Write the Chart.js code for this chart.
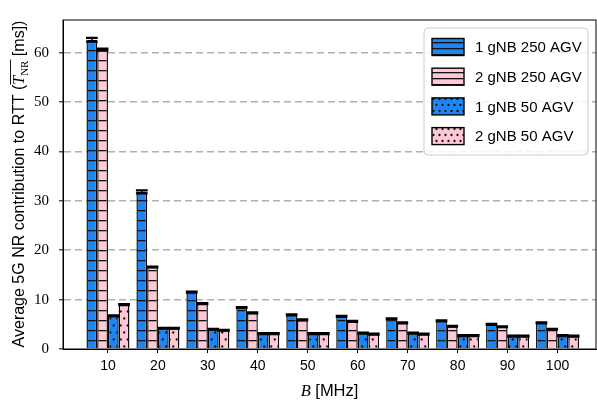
<!DOCTYPE html>
<html>
<head>
<meta charset="utf-8">
<script src="https://cdn.jsdelivr.net/npm/chart.js@4"></script>
<style>
  body { margin: 0; background: #fff; }
</style>
</head>
<body>
<canvas id="rttChart" width="597" height="403"></canvas>
<script>
const bandwidth = [10, 20, 30, 40, 50, 60, 70, 80, 90, 100];

const gnb1_250 = [62.6, 31.8, 11.5, 8.4, 6.9, 6.6, 6.1, 5.7, 5.0, 5.3];
const gnb2_250 = [60.6, 16.6, 9.2, 7.3, 5.9, 5.6, 5.3, 4.6, 4.5, 4.0];
const gnb1_50 = [6.7, 4.2, 4.0, 3.1, 3.1, 3.2, 3.2, 2.7, 2.6, 2.7];
const gnb2_50 = [9.0, 4.2, 3.8, 3.1, 3.1, 3.0, 3.0, 2.7, 2.6, 2.6];

const err1_250 = [0.4, 0.3, 0.1, 0.1, 0.1, 0.1, 0.1, 0.1, 0.1, 0.1];
const err2_250 = [0.2, 0.1, 0.1, 0.1, 0.1, 0.1, 0.1, 0.1, 0.1, 0.1];
const err1_50 = [0.1, 0.1, 0.1, 0.1, 0.1, 0.1, 0.1, 0.1, 0.1, 0.1];
const err2_50 = [0.1, 0.1, 0.1, 0.1, 0.1, 0.1, 0.1, 0.1, 0.1, 0.1];

const yTicks = [0, 10, 20, 30, 40, 50, 60];

const BLUE = '#1e86f2';
const PINK = '#ffc8d4';

// hatch patterns (bars and legend use a denser one)
function linePattern(color, step) {
    const c = document.createElement('canvas');
    c.width = 8; c.height = step;
    const g = c.getContext('2d');
    g.fillStyle = color;
    g.fillRect(0, 0, c.width, c.height);
    g.fillStyle = '#111';
    g.fillRect(0, 0, c.width, 1.3);
    return g.createPattern(c, 'repeat');
}

function dotPattern(color, step) {
    const c = document.createElement('canvas');
    c.width = step; c.height = step * 2;
    const g = c.getContext('2d');
    g.fillStyle = color;
    g.fillRect(0, 0, c.width, c.height);
    g.fillStyle = '#111';
    g.beginPath();
    g.arc(step * 0.25, step * 0.5, 1.15, 0, Math.PI * 2);
    g.arc(step * 0.75, step * 1.5, 1.15, 0, Math.PI * 2);
    g.fill();
    return g.createPattern(c, 'repeat');
}

function toPoints(values) {
    return bandwidth.map((b, i) => ({ x: b, y: values[i] }));
}

const series = [
    { label: '1 gNB 250 AGV', values: gnb1_250, err: err1_250, fill: linePattern(BLUE, 10), legendFill: linePattern(BLUE, 6) },
    { label: '2 gNB 250 AGV', values: gnb2_250, err: err2_250, fill: linePattern(PINK, 10), legendFill: linePattern(PINK, 6) },
    { label: '1 gNB 50 AGV', values: gnb1_50, err: err1_50, fill: dotPattern(BLUE, 7), legendFill: dotPattern(BLUE, 6) },
    { label: '2 gNB 50 AGV', values: gnb2_50, err: err2_50, fill: dotPattern(PINK, 7), legendFill: dotPattern(PINK, 6) }
];

const datasets = series.map(s => ({
    label: s.label,
    data: toPoints(s.values),
    errors: s.err,
    legendFill: s.legendFill,
    backgroundColor: s.fill,
    borderColor: '#000',
    borderWidth: 1.4,
    borderSkipped: 'bottom',
    categoryPercentage: 0.86,
    barPercentage: 1.0
}));

const errorBars = {
    id: 'errorBars',
    afterDatasetsDraw(chart) {
        const ctx = chart.ctx;
        const y = chart.scales.y;
        ctx.save();
        ctx.strokeStyle = '#000';
        chart.data.datasets.forEach((ds, i) => {
            chart.getDatasetMeta(i).data.forEach((bar, j) => {
                const v = ds.data[j].y;
                const e = ds.errors[j];
                const top = y.getPixelForValue(v + e);
                const bot = y.getPixelForValue(v - e);
                const half = bar.width / 2 + 0.5;
                ctx.lineWidth = 1.5;
                ctx.beginPath();
                ctx.moveTo(bar.x, top);
                ctx.lineTo(bar.x, bot);
                ctx.stroke();
                ctx.lineWidth = 2.2;
                ctx.beginPath();
                ctx.moveTo(bar.x - half, top);
                ctx.lineTo(bar.x + half, top);
                ctx.moveTo(bar.x - half, bot);
                ctx.lineTo(bar.x + half, bot);
                ctx.stroke();
            });
        });
        ctx.restore();
    }
};

const frameAndText = {
    id: 'frameAndText',
    afterDraw(chart) {
        const ctx = chart.ctx;
        const a = chart.chartArea;
        ctx.save();
        ctx.strokeStyle = '#000';
        ctx.lineWidth = 1;
        ctx.strokeRect(a.left, a.top, a.right - a.left, a.bottom - a.top);

        // legend
        const lx = 424, ly = 28, lw = 164, lh = 127;
        ctx.fillStyle = 'rgba(255,255,255,0.85)';
        ctx.strokeStyle = '#cccccc';
        ctx.beginPath();
        ctx.roundRect(lx, ly, lw, lh, 4);
        ctx.fill();
        ctx.stroke();
        ctx.font = '15px "Liberation Sans"';
        ctx.textBaseline = 'middle';
        chart.data.datasets.forEach((ds, i) => {
            const cy = 47 + i * 29.7;
            ctx.fillStyle = ds.legendFill;
            ctx.fillRect(432, cy - 8.5, 32, 17);
            ctx.strokeStyle = '#000';
            ctx.lineWidth = 1.4;
            ctx.strokeRect(432, cy - 8.5, 32, 17);
            ctx.fillStyle = '#000';
            ctx.fillText(ds.label, 475, cy + 1);
        });

        // x axis title
        ctx.textBaseline = 'alphabetic';
        const xParts = [
            { t: 'B', f: 'italic 16.5px "Liberation Serif"' },
            { t: ' [MHz]', f: '16.5px "Liberation Sans"' }
        ];
        let w = 0;
        xParts.forEach(p => { ctx.font = p.f; p.w = ctx.measureText(p.t).width; w += p.w; });
        let x = (a.left + a.right) / 2 - w / 2;
        xParts.forEach(p => { ctx.font = p.f; ctx.fillText(p.t, x, 396); x += p.w; });

        // y axis title
        ctx.translate(24, 184);
        ctx.rotate(-Math.PI / 2);
        const yParts = [
            { t: 'Average 5G NR contribution to RTT (', f: '16px "Liberation Sans"', dy: 0 },
            { t: 'T', f: 'italic 16px "Liberation Serif"', dy: 0, over: true },
            { t: 'NR', f: '11px "Liberation Serif"', dy: 3.5, over: true },
            { t: ' [ms])', f: '16px "Liberation Sans"', dy: 0 }
        ];
        w = 0;
        yParts.forEach(p => { ctx.font = p.f; p.w = ctx.measureText(p.t).width; w += p.w; });
        x = -w / 2;
        let o0 = null, o1 = null;
        yParts.forEach(p => {
            ctx.font = p.f;
            ctx.fillText(p.t, x, 0 + p.dy);
            if (p.over) { if (o0 === null) o0 = x; o1 = x + p.w; }
            x += p.w;
        });
        ctx.lineWidth = 0.9;
        ctx.beginPath();
        ctx.moveTo(o0, -13.5);
        ctx.lineTo(o1 + 1, -13.5);
        ctx.stroke();
        ctx.restore();
    }
};

const config = {
    type: 'bar',
    data: { datasets: datasets },
    options: {
        responsive: false,
        animation: false,
        devicePixelRatio: 1,
        layout: { padding: { left: 0, top: 20, right: 1, bottom: 0 } },
        plugins: {
            legend: { display: false },
            tooltip: { enabled: false }
        },
        scales: {
            x: {
                type: 'linear',
                min: 1,
                max: 107.7,
                offset: false,
                grid: {
                    offset: false,
                    drawOnChartArea: false,
                    drawTicks: true,
                    tickLength: 4,
                    tickColor: '#000'
                },
                border: { color: '#000', width: 1 },
                ticks: {
                    stepSize: 10,
                    autoSkip: false,
                    maxRotation: 0,
                    color: '#000',
                    padding: 5,
                    font: { family: 'Liberation Sans', size: 14 }
                },
                afterBuildTicks(scale) {
                    scale.ticks = bandwidth.map(v => ({ value: v }));
                },
                afterFit(scale) { scale.height = 54; }
            },
            y: {
                min: 0,
                max: 66.6,
                grid: {
                    color: c => (c.tick && c.tick.value === 0) ? 'rgba(0,0,0,0)' : '#b0b0b0',
                    lineWidth: 1.6,
                    tickColor: '#000',
                    tickWidth: 1,
                    tickLength: 4,
                    tickBorderDash: []
                },
                border: { color: '#000', width: 1, dash: [7, 4] },
                ticks: {
                    color: '#000',
                    padding: 10,
                    font: { family: 'Liberation Serif', size: 15 }
                },
                afterBuildTicks(scale) {
                    scale.ticks = yTicks.map(v => ({ value: v }));
                },
                afterFit(scale) { scale.width = 63; }
            }
        }
    },
    plugins: [errorBars, frameAndText]
};

const rttChart = new Chart(document.getElementById('rttChart'), config);
</script>
</body>
</html>
